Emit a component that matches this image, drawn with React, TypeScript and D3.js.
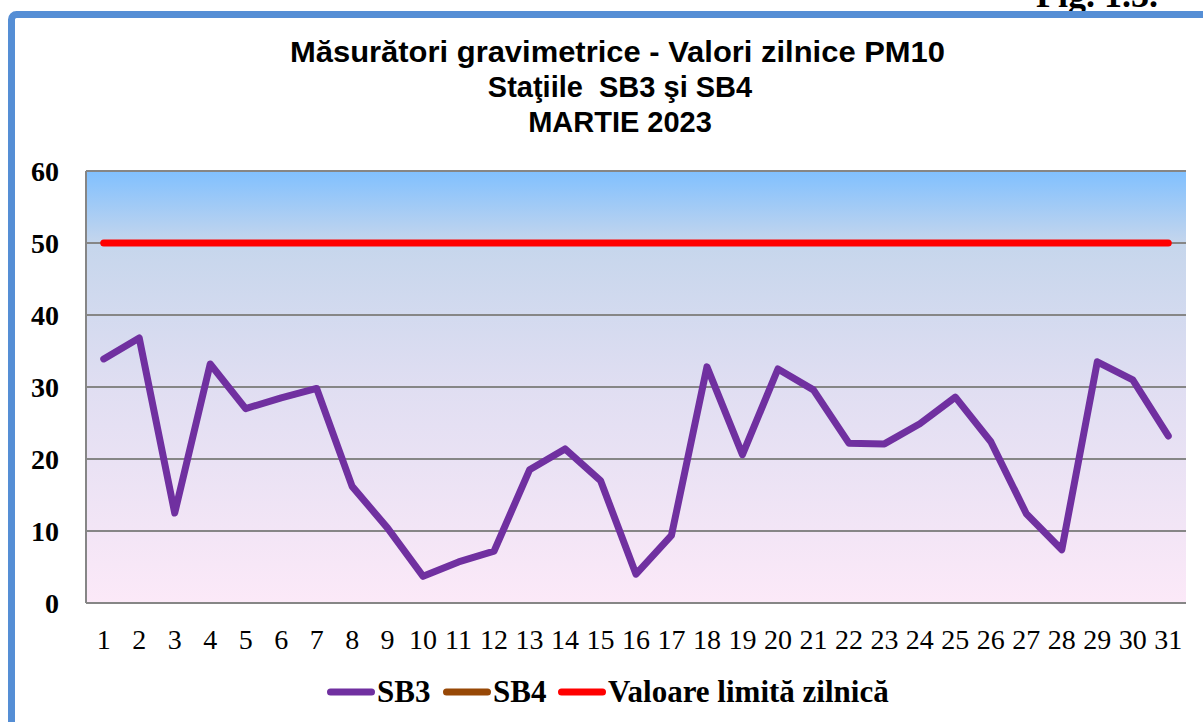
import React from 'react';
import * as d3 from 'd3';

const days = d3.range(1, 32).map(String);
const sb3 = [33.9, 36.8, 12.5, 33.2, 27.0, 28.5, 29.8, 16.2, 10.4, 3.7, 5.7, 7.2, 18.5, 21.4, 17.0, 4.0, 9.4, 32.8, 20.6, 32.5, 29.6, 22.2, 22.1, 24.9, 28.6, 22.4, 12.4, 7.4, 33.5, 31.0, 23.2];
const sb4: (number | null)[] = days.map(() => null);
const limit = days.map(() => 50);
const yTicks = [0, 10, 20, 30, 40, 50, 60];
const titleLines = ['Măsurători gravimetrice - Valori zilnice PM10', 'Staţiile  SB3 şi SB4', 'MARTIE 2023'];
const legendItems = [
  { name: 'SB3', color: '#7030a0' },
  { name: 'SB4', color: '#974806' },
  { name: 'Valoare limită zilnică', color: '#ff0000' },
];

const W = 1203;
const H = 722;
const left = 86, right = 1186, top = 171, bottom = 603;

export default function App() {
  const x = d3.scaleBand().domain(days).range([left, right]);
  const y = d3.scaleLinear().domain([0, 60]).range([bottom, top]);
  const cx = (d: string) => (x(d) as number) + x.bandwidth() / 2;

  const line = d3.line<number | null>()
    .defined(v => v != null)
    .x((_, i) => cx(days[i]))
    .y(v => y(v as number));

  const serif = '"Liberation Serif", "Times New Roman", serif';
  const sans = '"Liberation Sans", Arial, sans-serif';

  // legend marker starts
  const legendX = [327, 443, 558];

  return (
    <svg width={W} height={H} style={{ position: 'absolute', left: 0, top: 0, background: '#fff' }}>
      <defs>
        <linearGradient id="bg" x1="0" y1="0" x2="0" y2="1">
          <stop offset="0" stopColor="#80c0ff" />
          <stop offset="0.17" stopColor="#c6d6ec" />
          <stop offset="0.5" stopColor="#e0def2" />
          <stop offset="1" stopColor="#fce9f8" />
        </linearGradient>
      </defs>

      {/* figure label, cut by the page top */}
      <text x={1158} y={7} textAnchor="end" fontFamily={serif} fontWeight="bold" fontSize={36}>Fig. 1.3.</text>

      {/* outer frame */}
      <rect x={11.5} y={14.5} width={1260} height={760} rx={5} fill="none" stroke="#558ed5" strokeWidth={7} />

      {titleLines.map((t, i) => (
        <text key={i} x={i === 0 ? 617.5 : 620} y={62 + i * 35} textAnchor="middle" fontFamily={sans}
          fontWeight="bold" fontSize={29} style={{ whiteSpace: 'pre' }}
          textLength={i === 0 ? 655 : undefined} lengthAdjust="spacingAndGlyphs">{t}</text>
      ))}

      <rect x={left} y={top} width={right - left} height={bottom - top} fill="url(#bg)" />

      {yTicks.map(t => (
        <g key={t}>
          <line x1={left} x2={right} y1={y(t)} y2={y(t)} stroke="#868686" strokeWidth={2} />
          <text x={59} y={y(t)} dy="0.35em" textAnchor="end" fontFamily={serif} fontWeight="bold" fontSize={28}>{t}</text>
        </g>
      ))}
      <line x1={left} x2={left} y1={top} y2={bottom} stroke="#868686" strokeWidth={2} />

      {days.map(d => (
        <text key={d} x={cx(d)} y={649} textAnchor="middle" fontFamily={serif} fontSize={28}>{d}</text>
      ))}

      <path d={line(limit) ?? ''} fill="none" stroke="#ff0000" strokeWidth={7} strokeLinecap="round" strokeLinejoin="round" />
      <path d={line(sb4) ?? ''} fill="none" stroke="#974806" strokeWidth={7} strokeLinecap="round" strokeLinejoin="round" />
      <path d={line(sb3) ?? ''} fill="none" stroke="#7030a0" strokeWidth={7} strokeLinecap="round" strokeLinejoin="round" />

      {legendItems.map((it, i) => {
        const lx = legendX[i];
        return (
          <g key={it.name}>
            <line x1={lx + 3.5} x2={lx + 44.5} y1={692} y2={692} stroke={it.color} strokeWidth={7} strokeLinecap="round" />
            <text x={lx + 50} y={702} fontFamily={serif} fontWeight="bold" fontSize={31}>{it.name}</text>
          </g>
        );
      })}
    </svg>
  );
}
